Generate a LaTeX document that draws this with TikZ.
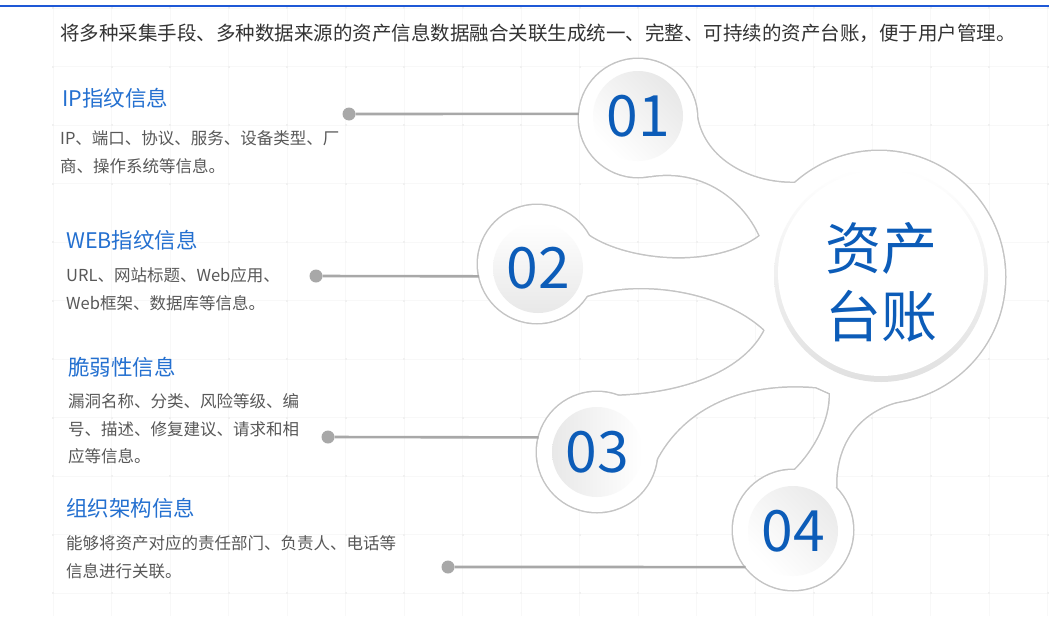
\documentclass[tikz,border=0pt]{standalone}
\usepackage{fontspec}
\setmainfont{Noto Sans CJK SC}
\definecolor{numblue}{RGB}{12,92,184}
\definecolor{headblue}{RGB}{36,112,208}
\definecolor{bodygray}{RGB}{88,88,88}
\definecolor{topgray}{RGB}{51,51,51}
\definecolor{topblue}{RGB}{30,88,214}
\definecolor{rimgray}{RGB}{196,196,196}
\definecolor{leadgray}{RGB}{168,168,168}
\definecolor{gridgray}{RGB}{248,248,248}
\definecolor{griddot}{RGB}{240,240,240}

\begin{document}
\begin{tikzpicture}[x=1pt,y=-1pt,
	rimline/.style={draw=rimgray,line width=3pt,line join=round},
	rimfill/.style={fill=white},
	ring/.style={circle,inner sep=0pt,minimum size=#1},
	numdisk/.style={circle,inner sep=0pt,minimum size=90pt,text=numblue,font=\fontsize{57}{57}\selectfont},
	dot/.style={circle,fill=leadgray,inner sep=0pt,minimum size=13pt},
	lead/.style={leadgray,line width=2.6pt},
	heading/.style={anchor=west,inner sep=0pt,text=headblue,font=\fontsize{21.5}{26}\selectfont},
	body/.style={anchor=north west,inner sep=0pt,align=left,text=bodygray,font=\fontsize{16.5}{27.5}\selectfont}]
	\useasboundingbox (0,0) rectangle (1049,616);
	\fill[white] (0,0) rectangle (1049,616);
	% faint grid
	\foreach \i in {0,...,17}
		\draw[gridgray,line width=1pt] ({53+58.5*\i},8)--({53+58.5*\i},616);
	\foreach \j in {0,...,10}
		\draw[gridgray,line width=1pt] (53,{8+58.5*\j})--(1049,{8+58.5*\j});
	\foreach \i in {0,...,17}
		\foreach \j in {0,...,10}
			\fill[griddot] ({53+58.5*\i-1},{8+58.5*\j-1}) rectangle ++(2,2);
	\draw[topblue,line width=2.5pt] (0,6)--(1049,6);
	\node[anchor=west,inner sep=0pt,text=topgray,font=\fontsize{19.5}{24}\selectfont] (intro) at (60,33) {将多种采集手段、多种数据来源的资产信息数据融合关联生成统一、完整、可持续的资产台账，便于用户管理。};
	% circles
	\node[ring=252pt] (c0) at (879,277) {};
	\node[ring=118pt] (c1) at (638,118) {};
	\node[ring=118pt] (c2) at (537,264) {};
	\node[ring=120pt] (c3) at (597,452) {};
	\node[ring=120pt] (c4) at (793,530) {};
	% outline: thick stroke first, white fill on top
	\foreach \pass in {rimline,rimfill}{
		\foreach \cn/\rr in {c0/126pt,c1/59pt,c2/59pt,c3/60pt,c4/60pt}
			\path[\pass] (\cn.center) circle[radius=\rr];
		\path[\pass] (697,118) .. controls (705,160) and (750,184) .. (795,183)
			-- (c0.center) -- (760,236) .. controls (742,196) and (700,168) .. (650,176)
			-- (c1.center) -- cycle;
		\path[\pass] (589,236) .. controls (628,262) and (715,270) .. (760,236)
			-- (c0.center) -- (765,330) .. controls (722,290) and (640,278) .. (586,296)
			-- (c2.center) -- cycle;
		\path[\pass] (615,396) .. controls (688,394) and (745,370) .. (765,330)
			-- (c0.center) -- (830,393) -- (816,387) .. controls (745,381) and (684,405) .. (655,462)
			-- (c3.center) -- cycle;
		\path[\pass] (795,470) .. controls (815,450) and (831,420) .. (830,393)
			-- (c0.center) -- (900,401) .. controls (862,410) and (835,440) .. (836,487)
			-- (c4.center) -- cycle;
	}
	% centre disk
	\node[circle,inner sep=0pt,minimum size=214pt,top color=white,bottom color=black!12] (hub) at (881,275) {};
	\fill[white] (881,273) circle[radius=103pt];
	\node[align=center,inner sep=0pt,text=numblue,font=\fontsize{56}{68}\selectfont] (hubtext) at (881,282) {资产\\台账};
	% number disks
	\node[numdisk,top color=black!9,bottom color=white,shading angle=-45] (n1) at (638,116) {01};
	\node[numdisk,top color=white,bottom color=black!9,shading angle=0] (n2) at (538,268) {02};
	\node[numdisk,top color=black!9,bottom color=white,shading angle=90] (n3) at (597,452) {03};
	\node[numdisk,top color=black!8,bottom color=white,shading angle=-45] (n4) at (793,531) {04};
	% leaders
	\node[dot] (d1) at (349,114) {};
	\node[dot] (d2) at (316,276) {};
	\node[dot] (d3) at (328,437) {};
	\node[dot] (d4) at (448,567) {};
	\draw[lead] (d1) -- (c1.176);
	\draw[lead] (d2) -- (c2.192);
	\draw[lead] (d3) -- (c3.166);
	\draw[lead] (d4) -- (c4.218);
	% texts
	\node[heading] (h1) at (62,98) {IP指纹信息};
	\node[body] (t1) at (60,130.5) {IP、端口、协议、服务、设备类型、厂\\商、操作系统等信息。};
	\node[heading] (h2) at (66,240) {WEB指纹信息};
	\node[body] (t2) at (66,267.5) {URL、网站标题、Web应用、\\Web框架、数据库等信息。};
	\node[heading] (h3) at (68,367) {脆弱性信息};
	\node[body] (t3) at (68,393.5) {漏洞名称、分类、风险等级、编\\号、描述、修复建议、请求和相\\应等信息。};
	\node[heading] (h4) at (66,508) {组织架构信息};
	\node[body] (t4) at (66,535.5) {能够将资产对应的责任部门、负责人、电话等\\信息进行关联。};
\end{tikzpicture}
\end{document}
